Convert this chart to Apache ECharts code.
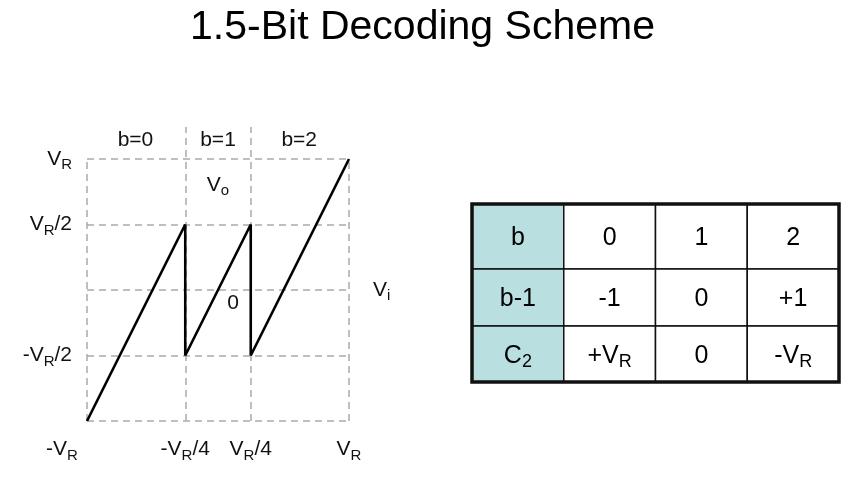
<!DOCTYPE html>
<html>
<head>
<meta charset="utf-8">
<script src="https://cdn.jsdelivr.net/npm/echarts@6/dist/echarts.min.js"></script>
<style>
  html, body { margin: 0; padding: 0; background: #fff; }
  #chart { width: 845px; height: 483px; }
</style>
</head>
<body>
<div id="chart"></div>
<script>
// 传输特性（Vo 对 Vi），单位 VR
const transferX = [-1, -0.25, -0.25, 0.25, 0.25, 1];
const transferY = [-1, 0.5, -0.5, 0.5, -0.5, 1];

// 虚线网格
const hGridValues = [-1, -0.5, 0, 0.5, 1];
const vGridValues = [-1, -0.25, 0.25, 1];
const vGridTops = [1, 1.244, 1.244, 1];

// 坐标轴刻度
const xTickValues = [-1, -0.25, 0.25, 1];
const xTickLabels = ["-V_R", "-V_R/4", "V_R/4", "V_R"];
const yTickValues = [-0.5, 0.5, 1];
const yTickLabels = ["-V_R/2", "V_R/2", "V_R"];

// 图中注释
const noteText = ["b=0", "b=1", "b=2", "V_o", "0", "V_i"];
const noteX = [-0.63, 0, 0.62, 0, 0.115, 1.25];
const noteY = [1.145, 1.145, 1.145, 0.8, -0.1, 0.0];

// 右侧表格
const tableRows = ["b", "b-1", "C_2"];
const tableCells = [
  ["0", "1", "2"],
  ["-1", "0", "+1"],
  ["+V_R", "0", "-V_R"],
];
// 行高（像素比例），第一行略高
const rowEdges = [0, 65, 122, 178];

const FONT = "Liberation Sans, Arial, sans-serif";

// 把 X_Y 写法转成带下标的富文本
const toRich = (s, main, sub) =>
  s.replace(/([A-Za-z])_([A-Za-z0-9])/g, `{${main}|$1}{${sub}|$2}`)
    .split(/(\{[a-z]+\|[^}]*\})/)
    .filter((p) => p !== "")
    .map((p) => (p.startsWith("{") ? p : `{${main}|${p}}`))
    .join("");

const labelRich = {
  m: { fontSize: 21, lineHeight: 27, color: "#111", fontFamily: FONT },
  s: { fontSize: 15, lineHeight: 17, verticalAlign: "bottom", color: "#111", fontFamily: FONT },
  gap: { width: 50, fontSize: 21, lineHeight: 27 },
};
const cellRich = {
  m: { fontSize: 25, lineHeight: 30, color: "#111", fontFamily: FONT },
  s: { fontSize: 18, lineHeight: 20, verticalAlign: "bottom", color: "#111", fontFamily: FONT },
};

const chart = echarts.init(document.getElementById("chart"));

const dashStyle = { color: "#aaaaaa", width: 1.5, type: [7, 5] };
const gridLines = hGridValues
  .map((v) => [{ coord: [-1, v] }, { coord: [1, v] }])
  .concat(vGridValues.map((v, i) => [{ coord: [v, -1] }, { coord: [v, vGridTops[i]] }]));

const option = {
  backgroundColor: "#fff",
  animation: false,
  title: {
    text: "1.5-Bit Decoding Scheme",
    left: "center",
    top: 2,
    textStyle: { fontSize: 41, fontWeight: "normal", color: "#000", fontFamily: FONT },
  },
  grid: [
    { left: 87, top: 127, width: 262, height: 294 },
    { left: 472, top: 204, width: 367, height: 178, show: false },
  ],
  xAxis: [
    {
      gridIndex: 0,
      type: "value",
      min: -1,
      max: 1,
      axisLine: { show: false },
      axisTick: { show: false },
      splitLine: { show: false },
      axisLabel: {
        customValues: xTickValues,
        margin: 15,
        formatter: (v) => {
          const i = xTickValues.indexOf(v);
          const txt = toRich(xTickLabels[i], "m", "s");
          return i === 0 ? txt + "{gap| }" : txt;
        },
        rich: labelRich,
      },
    },
    { gridIndex: 1, type: "value", min: 0, max: 4, show: false },
  ],
  yAxis: [
    {
      gridIndex: 0,
      type: "value",
      min: -1,
      max: 1.244,
      axisLine: { show: false },
      axisTick: { show: false },
      splitLine: { show: false },
      axisLabel: {
        customValues: yTickValues,
        margin: 15,
        formatter: (v) => toRich(yTickLabels[yTickValues.indexOf(v)], "m", "s"),
        rich: labelRich,
      },
    },
    { gridIndex: 1, type: "value", min: 0, max: rowEdges[rowEdges.length - 1], inverse: true, show: false },
  ],
  series: [
    {
      type: "line",
      xAxisIndex: 0,
      yAxisIndex: 0,
      data: [],
      markLine: {
        silent: true,
        symbol: "none",
        z: 1,
        label: { show: false },
        lineStyle: dashStyle,
        data: gridLines,
      },
    },
    {
      type: "line",
      xAxisIndex: 0,
      yAxisIndex: 0,
      z: 3,
      symbol: "none",
      lineStyle: { color: "#000", width: 2.6 },
      data: transferX.map((x, i) => [x, transferY[i]]),
    },
    {
      type: "scatter",
      xAxisIndex: 0,
      yAxisIndex: 0,
      clip: false,
      symbolSize: 0,
      itemStyle: { opacity: 1 },
      data: noteText.map((t, i) => ({ name: t, value: [noteX[i], noteY[i]] })),
      label: {
        show: true,
        position: "inside",
        formatter: (p) => toRich(p.name, "m", "s"),
        rich: labelRich,
      },
    },
    {
      type: "custom",
      xAxisIndex: 1,
      yAxisIndex: 1,
      data: tableRows.flatMap((r, ri) =>
        [r].concat(tableCells[ri]).map((t, ci) => [ci, rowEdges[ri], ci + 1, rowEdges[ri + 1], t])
      ),
      renderItem: (params, api) => {
        const a = api.coord([api.value(0), api.value(1)]);
        const b = api.coord([api.value(2), api.value(3)]);
        const first = api.value(0) < 1;
        return {
          type: "group",
          children: [
            {
              type: "rect",
              shape: { x: a[0], y: a[1], width: b[0] - a[0], height: b[1] - a[1] },
              style: { fill: first ? "#b9dfe1" : "#fff", stroke: "#111", lineWidth: 1.5 },
            },
            {
              type: "text",
              x: (a[0] + b[0]) / 2,
              y: (a[1] + b[1]) / 2 + 2,
              style: {
                text: toRich(String(api.value(4)), "m", "s"),
                rich: cellRich,
                align: "center",
                verticalAlign: "middle",
              },
            },
          ],
        };
      },
    },
    {
      type: "custom",
      xAxisIndex: 1,
      yAxisIndex: 1,
      z: 4,
      data: [[0, 0, 4, rowEdges[rowEdges.length - 1]]],
      renderItem: (params, api) => {
        const a = api.coord([api.value(0), api.value(1)]);
        const b = api.coord([api.value(2), api.value(3)]);
        return {
          type: "rect",
          shape: { x: a[0], y: a[1], width: b[0] - a[0], height: b[1] - a[1] },
          style: { fill: "none", stroke: "#111", lineWidth: 3.5 },
        };
      },
    },
  ],
};

chart.setOption(option);
</script>
</body>
</html>
